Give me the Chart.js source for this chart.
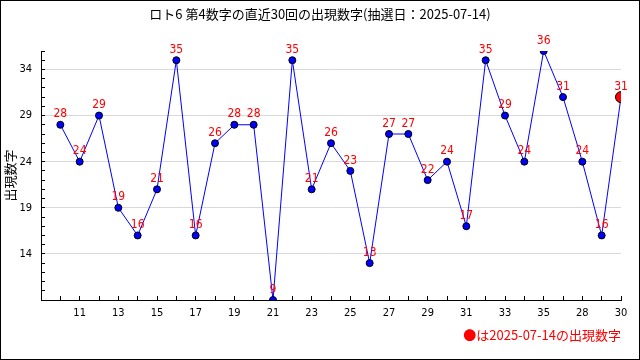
<!DOCTYPE html>
<html>
<head>
<meta charset="utf-8">
<script src="https://cdn.jsdelivr.net/npm/chart.js@4/dist/chart.umd.min.js"></script>
<style>
  body { margin: 0; background: #fff; }
</style>
</head>
<body>
<canvas id="myChart" width="640" height="360"></canvas>
<script>
// 直近30回の第4数字
let xLabels = ["10", "11", "12", "13", "14", "15", "16", "17", "18", "19",
               "20", "21", "22", "23", "24", "25", "26", "27", "28", "29",
               "30", "31", "32", "33", "34", "35", "36", "28", "29", "30"];
let yValues = [28, 24, 29, 19, 16, 21, 35, 16, 26, 28,
               28, 9, 35, 21, 26, 23, 13, 27, 27, 22,
               24, 17, 35, 29, 24, 36, 31, 24, 16, 31];
let yTicks = [14, 19, 24, 29, 34];
let yMin = 9;
let yMax = 36;

let titulo = "ロト6 第4数字の直近30回の出現数字(抽選日：2025-07-14)";
let nota = "●は2025-07-14の出現数字";

let fonte = "'Liberation Sans Narrow', 'DejaVu Sans Condensed', 'Liberation Sans', sans-serif";
let fonteJp = "'Noto Sans CJK JP', sans-serif";

let ultimo = yValues.length - 1;
let pontos = yValues.map((v, i) => ({ x: i, y: v }));

// moldura preta e fundo branco
const moldura = {
  id: "moldura",
  beforeDraw(chart) {
    const ctx = chart.ctx;
    ctx.save();
    ctx.fillStyle = "#fff";
    ctx.fillRect(0, 0, chart.width, chart.height);
    ctx.restore();
  },
  afterDraw(chart) {
    const ctx = chart.ctx;
    ctx.save();
    ctx.strokeStyle = "#000";
    ctx.lineWidth = 1;
    ctx.strokeRect(0.5, 0.5, chart.width - 1, chart.height - 1);
    ctx.restore();
  }
};

// valores em vermelho acima dos pontos
const rotulos = {
  id: "rotulos",
  afterDatasetsDraw(chart) {
    const ctx = chart.ctx;
    const meta = chart.getDatasetMeta(0);
    ctx.save();
    ctx.fillStyle = "#ff0000";
    ctx.font = "12px " + fonte;
    ctx.textAlign = "center";
    ctx.textBaseline = "middle";
    meta.data.forEach((p, i) => {
      ctx.fillText(String(yValues[i]), p.x, p.y - 10.5);
    });
    ctx.restore();
  }
};

let chart = new Chart("myChart", {
  type: "line",
  data: {
    datasets: [{
      data: pontos,
      borderColor: "#0000ff",
      borderWidth: 1,
      tension: 0,
      fill: false,
      pointBackgroundColor: (c) => c.dataIndex === ultimo ? "#ff0000" : "#0000ff",
      pointBorderColor: "#000",
      pointBorderWidth: 1,
      pointRadius: (c) => c.dataIndex === ultimo ? 5.5 : 3.5,
      pointHoverRadius: (c) => c.dataIndex === ultimo ? 5.5 : 3.5
    }]
  },
  options: {
    responsive: false,
    animation: false,
    devicePixelRatio: 1,
    layout: { padding: { left: 0, right: 0, top: 0, bottom: 17.2 } },
    plugins: {
      legend: { display: false },
      tooltip: { enabled: false },
      title: {
        display: true,
        text: titulo,
        color: "#000",
        font: { family: fonteJp, size: 13, weight: "normal" },
        padding: { top: 6, bottom: 29.4 }
      },
      subtitle: {
        display: true,
        text: nota,
        position: "bottom",
        align: "end",
        fullSize: false,
        color: "#ff0000",
        font: { family: fonteJp, size: 13, weight: "normal" },
        padding: { top: 0, bottom: 0 }
      }
    },
    scales: {
      x: {
        type: "linear",
        min: -1,
        max: 29,
        afterBuildTicks(s) {
          s.ticks = [];
          for (let i = -1; i <= 29; i++) s.ticks.push({ value: i });
        },
        afterFit(s) { s.height = 27.2; },
        ticks: {
          autoSkip: false,
          maxRotation: 0,
          padding: 11,
          color: "#000",
          font: { family: fonte, size: 11 },
          callback: (v) => (v >= 0 && v % 2 === 1) ? xLabels[v] : ""
        },
        grid: {
          drawOnChartArea: false,
          drawTicks: true,
          tickLength: -4,
          tickColor: "#000",
          color: "#000"
        },
        border: { display: true, color: "#000", width: 1 }
      },
      y: {
        min: yMin,
        max: yMax,
        afterBuildTicks(s) {
          s.ticks = [];
          for (let v = yMin; v <= yMax; v++) s.ticks.push({ value: v });
        },
        afterFit(s) { s.width = 41; },
        ticks: {
          autoSkip: false,
          padding: 13,
          color: "#000",
          font: { family: fonte, size: 11 },
          callback: (v) => yTicks.includes(v) ? String(v) : ""
        },
        grid: {
          color: (c) => (c.tick && yTicks.includes(c.tick.value)) ? "#d9d9d9" : "rgba(0,0,0,0)",
          drawTicks: true,
          tickLength: -4,
          tickColor: "#000"
        },
        border: { display: true, color: "#000", width: 1 },
        title: {
          display: true,
          text: "出現数字",
          color: "#000",
          font: { family: fonteJp, size: 13, weight: "normal" },
          padding: { top: 2, bottom: 0 }
        }
      },
      margem: {
        position: "right",
        display: true,
        ticks: { display: false },
        grid: { display: false },
        border: { display: false },
        afterFit(s) { s.width = 19; }
      }
    }
  },
  plugins: [moldura, rotulos]
});
</script>
</body>
</html>
